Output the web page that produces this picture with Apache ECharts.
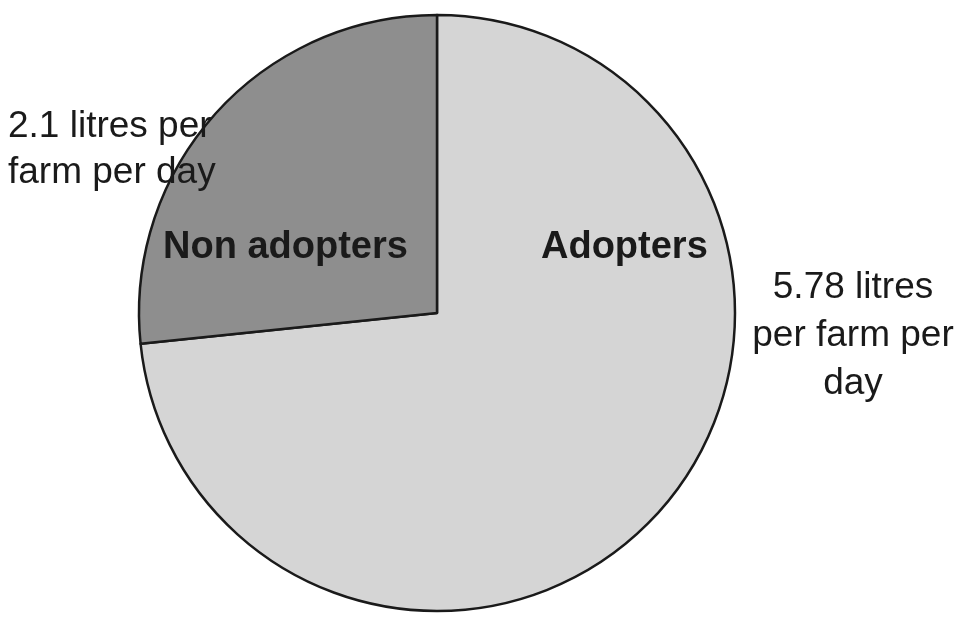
<!DOCTYPE html>
<html>
<head>
<meta charset="utf-8">
<script src="https://cdn.jsdelivr.net/npm/echarts@6/dist/echarts.min.js"></script>
<style>
html,body{margin:0;padding:0;background:#ffffff;}
#main{width:963px;height:617px;}
</style>
</head>
<body>
<div id="main"></div>
<script>
var categories = ['Adopters', 'Non adopters'];
var values = [5.78, 2.1];
var valueLabels = ['5.78 litres\nper farm per\nday', '2.1 litres per\nfarm per day'];
var colors = ['#d5d5d5', '#8e8e8e'];

var chart = echarts.init(document.getElementById('main'));
var data = categories.map(function (c, i) {
  return { name: c, value: values[i], itemStyle: { color: colors[i] } };
});
var font = '"Liberation Sans", Arial, sans-serif';
chart.setOption({
  animation: false,
  backgroundColor: '#ffffff',
  series: [{
    type: 'pie',
    center: [437, 313],
    radius: [0, 298],
    startAngle: 90,
    clockwise: true,
    label: { show: false },
    labelLine: { show: false },
    itemStyle: { borderColor: '#1a1a1a', borderWidth: 2.5 },
    emphasis: { disabled: true },
    data: data
  }],
  graphic: [
    { type: 'text', z: 100, x: 541, y: 229, style: { text: categories[0], font: 'bold 38px ' + font, fill: '#1a1a1a' } },
    { type: 'text', z: 100, x: 163, y: 229, style: { text: categories[1], font: 'bold 38px ' + font, fill: '#1a1a1a' } },
    { type: 'text', z: 100, x: 853, y: 264, style: { text: valueLabels[0], font: '37px ' + font, fill: '#1a1a1a', align: 'center', lineHeight: 48 } },
    { type: 'text', z: 100, x: 8, y: 104, style: { text: valueLabels[1], font: '37px ' + font, fill: '#1a1a1a', align: 'left', lineHeight: 46 } }
  ]
});
</script>
</body>
</html>
